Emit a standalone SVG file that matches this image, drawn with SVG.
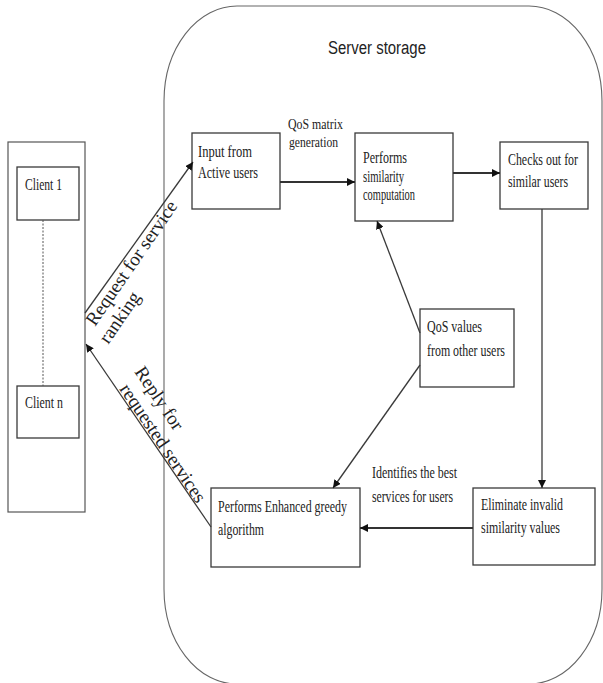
<svg xmlns="http://www.w3.org/2000/svg" width="603" height="683" viewBox="0 0 603 683">
<defs>
<marker id="ah" viewBox="0 0 10 10" refX="10" refY="5" markerWidth="8" markerHeight="8" markerUnits="userSpaceOnUse" orient="auto">
<path d="M0,0 L10,5 L0,10 z" fill="#111"/>
</marker>
<style>
.box{fill:#fff;stroke:#3a3a3a;stroke-width:1.3}
.t{font-family:"Liberation Serif","Times New Roman",serif;font-size:16px;fill:#222}
.s{font-family:"Liberation Serif","Times New Roman",serif;font-size:15px;fill:#222}
.r{font-family:"Liberation Serif","Times New Roman",serif;font-size:19px;fill:#222}
.c{fill:none;stroke:#3a3a3a;stroke-width:1.3}
.ct{fill:none;stroke:#333;stroke-width:1.8}
</style>
</defs>
<rect width="603" height="683" fill="#fff"/>
<g id="server">
<rect x="164" y="6" width="438" height="678" rx="73" ry="95" fill="none" stroke="#666" stroke-width="1.1"/>
<text x="328" y="54" font-family="'Liberation Sans',Arial,sans-serif" font-size="18" fill="#222" textLength="98" lengthAdjust="spacingAndGlyphs">Server storage</text>
</g>
<g id="clients">
<rect x="8" y="142" width="77" height="370" fill="none" stroke="#555" stroke-width="1.2"/>
</g>
<g id="client1">
<rect class="box" x="17" y="167" width="62" height="53"/>
<text class="t" x="25" y="190" textLength="37" lengthAdjust="spacingAndGlyphs">Client 1</text>
</g>
<g id="clientn">
<rect class="box" x="17" y="386" width="62" height="52"/>
<text class="t" x="25" y="408" textLength="38" lengthAdjust="spacingAndGlyphs">Client n</text>
</g>
<g id="input">
<rect class="box" x="192" y="133" width="88" height="76"/>
<text class="t" x="198" y="157" textLength="54" lengthAdjust="spacingAndGlyphs">Input from</text>
<text class="t" x="198" y="178" textLength="60" lengthAdjust="spacingAndGlyphs">Active users</text>
</g>
<g id="similarity">
<rect class="box" x="355" y="133" width="98" height="88"/>
<text class="t" x="363" y="163" textLength="44" lengthAdjust="spacingAndGlyphs">Performs</text>
<text class="t" x="363" y="182" textLength="41" lengthAdjust="spacingAndGlyphs">similarity</text>
<text class="t" x="363" y="200" textLength="52" lengthAdjust="spacingAndGlyphs">computation</text>
</g>
<g id="checks">
<rect class="box" x="500" y="142" width="88" height="67"/>
<text class="t" x="508" y="165" textLength="70" lengthAdjust="spacingAndGlyphs">Checks out for</text>
<text class="t" x="508" y="187" textLength="60" lengthAdjust="spacingAndGlyphs">similar users</text>
</g>
<g id="qosvalues">
<rect class="box" x="420" y="309" width="94" height="78"/>
<text class="t" x="427" y="332" textLength="55" lengthAdjust="spacingAndGlyphs">QoS values</text>
<text class="t" x="427" y="356" textLength="78" lengthAdjust="spacingAndGlyphs">from other users</text>
</g>
<g id="eliminate">
<rect class="box" x="473" y="488" width="122" height="77"/>
<text class="t" x="481" y="510" textLength="82" lengthAdjust="spacingAndGlyphs">Eliminate invalid</text>
<text class="t" x="481" y="533" textLength="79" lengthAdjust="spacingAndGlyphs">similarity values</text>
</g>
<g id="greedy">
<rect class="box" x="211" y="488" width="149" height="79"/>
<text class="t" x="218" y="512" textLength="129" lengthAdjust="spacingAndGlyphs">Performs Enhanced greedy</text>
<text class="t" x="218" y="535" textLength="46" lengthAdjust="spacingAndGlyphs">algorithm</text>
</g>
<g id="connectors">
<line x1="43" y1="220" x2="43" y2="386" stroke="#555" stroke-width="1" stroke-dasharray="2,1.5"/>
<line class="c" x1="85" y1="313" x2="193" y2="162" marker-end="url(#ah)"/>
<line class="c" x1="211" y1="527" x2="86" y2="344" marker-end="url(#ah)"/>
<line class="ct" x1="280" y1="182" x2="355" y2="182" marker-end="url(#ah)"/>
<line class="ct" x1="453" y1="173" x2="500" y2="173" marker-end="url(#ah)"/>
<line class="c" x1="542" y1="209" x2="542" y2="488" marker-end="url(#ah)"/>
<line class="ct" x1="473" y1="528" x2="360" y2="528" marker-end="url(#ah)"/>
<line class="c" x1="420" y1="333" x2="377" y2="221" marker-end="url(#ah)"/>
<line class="c" x1="420" y1="365" x2="333" y2="488" marker-end="url(#ah)"/>
</g>
<g id="labels">
<text class="s" x="288" y="129" textLength="55" lengthAdjust="spacingAndGlyphs">QoS matrix</text>
<text class="s" x="289" y="147" textLength="49" lengthAdjust="spacingAndGlyphs">generation</text>
<text class="t" x="372" y="478" textLength="85" lengthAdjust="spacingAndGlyphs">Identifies the best</text>
<text class="t" x="372" y="502" textLength="81" lengthAdjust="spacingAndGlyphs">services for users</text>
<text class="r" transform="translate(95,327) rotate(-55.5)"><tspan x="0" y="0">Request for service</tspan><tspan x="-7" y="21">ranking</tspan></text>
<text class="r" transform="translate(119,389) rotate(56)"><tspan x="-6" y="-22">Reply for</tspan><tspan x="0" y="0">requested services</tspan></text>
</g>
</svg>
